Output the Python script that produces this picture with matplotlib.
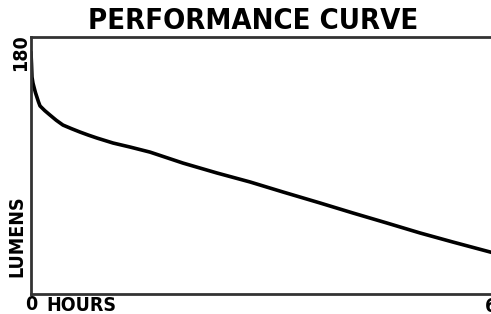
import matplotlib
matplotlib.use('Agg')
import matplotlib.pyplot as plt

# Данні кривої (оцінені з картинки)
hours = [0, 65, 130, 260, 390, 580, 780, 980, 1180, 1800, 2480, 3300, 4180, 5300, 6400,
         7500, 8630, 10720, 12940, 15560, 19870, 24310, 28630, 32940, 37780, 42090,
         46540, 50850, 55160, 60000]
lumens = [180, 172, 162, 157.5, 154.6, 150.5, 147, 143.5, 140.5, 137, 133.7, 129.8,
          126.2, 123.5, 121, 118.7, 116.5, 112.8, 109.8, 106, 97.8, 90.4, 83.7, 76.2,
          68, 60.5, 53, 45.6, 38.8, 31.4]

x_ticks = [0]
x_tick_labels = ['0']
y_ticks = [180]
y_tick_labels = ['180']

W, H = 491, 314
fig = plt.figure(figsize=(W / 100, H / 100), dpi=100)
ax = fig.add_axes([31 / W, 20 / H, (W - 31) / W, 257 / H])

lab_font = dict(family='DejaVu Sans', stretch='condensed', weight='bold', size=14)

ax.plot(hours, lumens, color='black', linewidth=2.6, solid_joinstyle='round')

ax.set_xlim(0, 60000 * 460 / 459)
ax.set_ylim(0, 192)

for side in ['left', 'top', 'bottom']:
    ax.spines[side].set_color('#333333')
    ax.spines[side].set_linewidth(2)
ax.spines['right'].set_visible(False)

ax.set_xticks(x_ticks, x_tick_labels)
ax.set_yticks(y_ticks, y_tick_labels)
ax.tick_params(length=0, pad=1)
for lbl in ax.get_xticklabels() + ax.get_yticklabels():
    lbl.set(**{'fontfamily': 'DejaVu Sans', 'fontstretch': 'condensed',
               'fontweight': 'bold', 'fontsize': 14})
for lbl in ax.get_yticklabels():
    lbl.set_rotation(90)
    lbl.set_va('center')

# обрізаний підпис праворуч
ax.annotate('60,000', xy=(60000, 0), xycoords='data', xytext=(-5, -3),
            textcoords='offset pixels', ha='left', va='top', **lab_font)

ax.set_xlabel('HOURS', **lab_font)
ax.set_ylabel('LUMENS', **lab_font)
ax.xaxis.set_label_coords(0.11, -0.043)
ax.yaxis.set_label_coords(-0.030, 0.226)
ax.xaxis.label.set_va('center')
ax.yaxis.label.set_va('center')

fig.text(253 / W, 1 - 21 / H, 'PERFORMANCE CURVE', ha='center', va='center',
         family='DejaVu Sans', stretch='condensed', weight='heavy', fontsize=21)

fig.savefig('out.png', dpi=100)
